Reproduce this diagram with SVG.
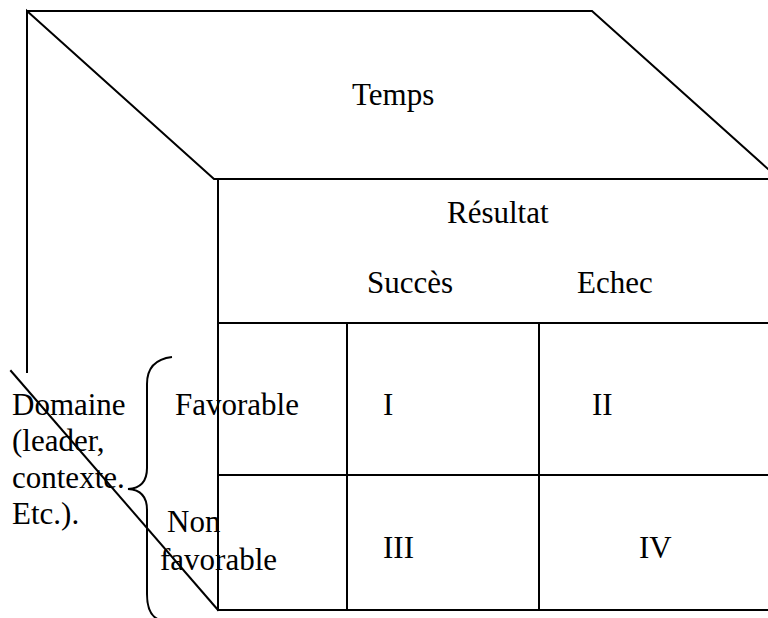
<svg xmlns="http://www.w3.org/2000/svg" width="768" height="618" viewBox="0 0 768 618">
<style>
.ln{stroke:#000;stroke-width:2;fill:none;stroke-linecap:square}
.br{stroke:#000;stroke-width:2;fill:none}
text{font-family:"Liberation Serif","Times New Roman",serif;font-size:31px;fill:#000}
</style>
<rect width="768" height="618" fill="#fff"/>
<g id="connectors">
<path class="ln" d="M27,11 H592 L768,169"/>
<path class="ln" d="M27,372 V11 L214,179 H768"/>
<path class="ln" d="M218,179 V610 H768"/>
<path class="ln" d="M218,323 H768 M218,475 H768"/>
<path class="ln" d="M347,323 V610 M539,323 V610"/>
<path class="ln" d="M11,371 L218,610"/>
<path class="br" d="M172,357 Q147,360 147,384 V468 Q147,488 128,489 Q147,490 147,510 V594 Q147,616 160,620"/>
</g>
<g id="top"><text x="352" y="105">Temps</text></g>
<g id="header">
<text x="447" y="223">Résultat</text>
<text x="367" y="293">Succès</text>
<text x="577" y="293">Echec</text>
</g>
<g id="rows">
<text x="175" y="415">Favorable</text>
<text x="167" y="532">Non</text>
<text x="160" y="570">favorable</text>
</g>
<g id="domaine">
<text x="12" y="415">Domaine</text>
<text x="12" y="451">(leader,</text>
<text x="12" y="488">contexte.</text>
<text x="12" y="524">Etc.).</text>
</g>
<g id="cells">
<text x="383" y="415">I</text>
<text x="592" y="415">II</text>
<text x="383" y="558">III</text>
<text x="639" y="558">IV</text>
</g>
</svg>
